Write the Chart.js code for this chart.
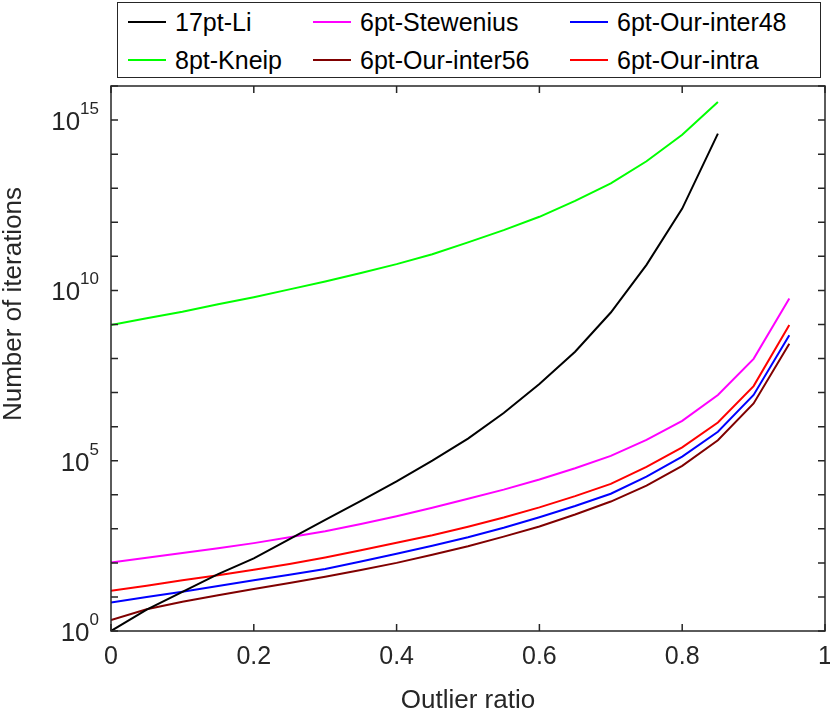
<!DOCTYPE html>
<html><head><meta charset="utf-8">
<script src="https://cdn.jsdelivr.net/npm/chart.js@4"></script>
<style>
html,body{margin:0;padding:0;background:#fff;}
#wrap{position:relative;width:830px;height:726px;}
#legend{position:absolute;left:117px;top:2px;width:702px;height:74px;border:1.5px solid #262626;background:#fff;font-family:"Liberation Sans",Arial,sans-serif;font-size:25px;color:#000;}
.it{position:absolute;display:flex;align-items:center;height:30px;}
.ln{width:38px;height:2px;margin-right:9px;}
</style></head><body>
<div id="wrap"><canvas id="c" width="830" height="726"></canvas><div id="legend"></div></div>
<script>
// x positions
const xLong = [0,0.05,0.1,0.15,0.2,0.25,0.3,0.35,0.4,0.45,0.5,0.55,0.6,0.65,0.7,0.75,0.8,0.85,0.9,0.95];
const xShort = xLong.slice(0,18);
// log10 of iterations
const li17Log = [0,0.63,1.15,1.67,2.13,2.7,3.26,3.82,4.39,5.0,5.65,6.4,7.25,8.2,9.35,10.75,12.4,14.6];
const kneip8Log = [8.98,9.18,9.37,9.59,9.80,10.03,10.26,10.51,10.77,11.06,11.41,11.77,12.16,12.63,13.14,13.79,14.57,15.53];
const stewLog = [2.01,2.15,2.29,2.43,2.58,2.75,2.93,3.14,3.37,3.62,3.88,4.15,4.45,4.78,5.14,5.61,6.17,6.93,7.99,9.76];
const inter48Log = [0.84,1.0,1.15,1.32,1.49,1.65,1.82,2.04,2.27,2.5,2.75,3.03,3.34,3.67,4.03,4.53,5.12,5.85,6.93,8.68];
const inter56Log = [0.32,0.64,0.86,1.05,1.23,1.41,1.59,1.79,2.0,2.24,2.49,2.77,3.07,3.42,3.80,4.27,4.85,5.6,6.68,8.43];
const intraLog = [1.18,1.33,1.49,1.64,1.80,1.97,2.16,2.37,2.59,2.81,3.06,3.33,3.63,3.96,4.32,4.82,5.39,6.12,7.19,8.98];
const yTickExps = [0,5,10,15];
const xTickLabels = ['0','0.2','0.4','0.6','0.8','1'];

const series = [
 {label:'17pt-Li', xs:xShort, v:li17Log, color:'#000000'},
 {label:'6pt-Stewenius', xs:xLong, v:stewLog, color:'#ff00ff'},
 {label:'6pt-Our-inter48', xs:xLong, v:inter48Log, color:'#0000ff'},
 {label:'8pt-Kneip', xs:xShort, v:kneip8Log, color:'#00ff00'},
 {label:'6pt-Our-inter56', xs:xLong, v:inter56Log, color:'#800000'},
 {label:'6pt-Our-intra', xs:xLong, v:intraLog, color:'#ff0000'}
];
const lg = document.getElementById('legend');
const pos = [[10,4],[195,4],[452,4],[10,42],[195,42],[452,42]];
series.forEach((s,i)=>{
  const d=document.createElement('div');d.className='it';d.style.left=pos[i][0]+'px';d.style.top=pos[i][1]+'px';
  d.innerHTML='<span class="ln" style="background:'+s.color+'"></span>'+s.label;lg.appendChild(d);
});
const FAM = '"Liberation Sans", Arial, sans-serif';
const boxTicks = {id:'boxTicks', afterDraw(ch){
  const c=ch.ctx, a=ch.chartArea, xs=ch.scales.x, ys=ch.scales.y;
  c.save(); c.strokeStyle='#262626'; c.lineWidth=1.5;
  c.strokeRect(a.left,a.top,a.right-a.left,a.bottom-a.top);
  c.beginPath();
  for(let i=0;i<=5;i++){const p=xs.getPixelForValue(i*0.2);c.moveTo(p,a.bottom);c.lineTo(p,a.bottom-7);c.moveTo(p,a.top);c.lineTo(p,a.top+7);}
  for(let e=0;e<=16;e++){const p=ys.getPixelForValue(Math.pow(10,e));c.moveTo(a.left,p);c.lineTo(a.left+7,p);c.moveTo(a.right,p);c.lineTo(a.right-7,p);}
  c.stroke();
  c.fillStyle='#262626';
  // x tick labels
  c.font='25px '+FAM; c.textAlign='center'; c.textBaseline='top';
  xTickLabels.forEach(t=>{c.fillText(t, xs.getPixelForValue(parseFloat(t)), a.bottom+14);});
  // y tick labels 10^e
  yTickExps.forEach(e=>{
    const p=ys.getPixelForValue(Math.pow(10,e));
    c.font='17px '+FAM; c.textAlign='right'; c.textBaseline='alphabetic';
    const ew=c.measureText(String(e)).width;
    c.fillText(String(e), 99, p-6);
    c.font='26px '+FAM;
    c.fillText('10', 99-ew, p+10);
  });
  // titles
  c.font='26px '+FAM; c.textAlign='center'; c.textBaseline='middle';
  c.fillText('Outlier ratio', (a.left+a.right)/2, 701);
  c.translate(14,304); c.rotate(-Math.PI/2); c.fillText('Number of iterations',0,0);
  c.restore();
}};
new Chart(document.getElementById('c'),{
 type:'line',
 data:{datasets:series.map(s=>({label:s.label,data:s.xs.map((x,i)=>({x:x,y:Math.pow(10,s.v[i])})),borderColor:s.color,borderWidth:2,pointRadius:0,tension:0,fill:false}))},
 options:{responsive:false,animation:false,events:[],
  layout:{padding:{top:86,right:5,left:0,bottom:0}},
  plugins:{legend:{display:false},tooltip:{enabled:false}},
  scales:{
   x:{type:'linear',min:0,max:1,ticks:{display:false},grid:{display:false},border:{display:false},
      afterFit(s){s.height=95;}},
   y:{type:'logarithmic',min:1,max:1e16,ticks:{display:false},grid:{display:false},border:{display:false},
      afterFit(s){s.width=111;}}
  }},
 plugins:[boxTicks]
});
</script></body></html>
